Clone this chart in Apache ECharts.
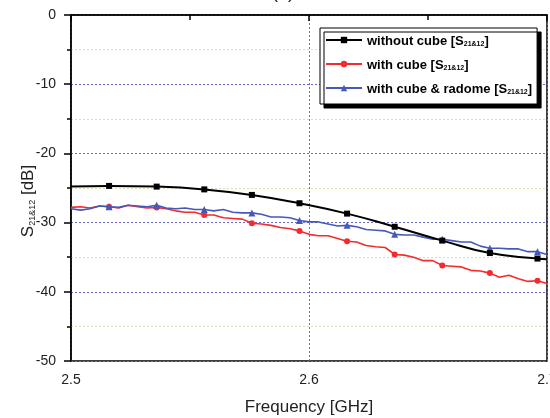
<!DOCTYPE html>
<html>
<head>
<meta charset="utf-8">
<script src="https://cdn.jsdelivr.net/npm/echarts@6/dist/echarts.min.js"></script>
<style>
  html, body { margin: 0; padding: 0; background: #fff; }
  #main { width: 550px; height: 418px; }
</style>
</head>
<body>
<div id="main"></div>
<script>
// S21&12 vs frequency, three measurement cases
var xTicks = [2.5, 2.6, 2.7];
var yTicks = [0, -10, -20, -30, -40, -50];

// black curve, read at its marker positions plus both ends
var freqNoCube = [2.5, 2.516, 2.536, 2.556, 2.576, 2.596, 2.616, 2.636, 2.656, 2.676, 2.696, 2.7];
var noCube = [-24.8, -24.7, -24.8, -25.2, -26.0, -27.2, -28.7, -30.6, -32.6, -34.4, -35.2, -35.3];

// red and blue traces, every 0.004 GHz
var freqStep = [
  2.500, 2.504, 2.508, 2.512, 2.516, 2.520, 2.524, 2.528, 2.532, 2.536,
  2.540, 2.544, 2.548, 2.552, 2.556, 2.560, 2.564, 2.568, 2.572, 2.576,
  2.580, 2.584, 2.588, 2.592, 2.596, 2.600, 2.604, 2.608, 2.612, 2.616,
  2.620, 2.624, 2.628, 2.632, 2.636, 2.640, 2.644, 2.648, 2.652, 2.656,
  2.660, 2.664, 2.668, 2.672, 2.676, 2.680, 2.684, 2.688, 2.692, 2.696, 2.700
];
var withCube = [
  -27.8, -27.7, -27.9, -27.6, -27.7, -27.9, -27.5, -27.7, -27.9, -27.8,
  -28.0, -28.3, -28.5, -28.5, -28.9, -28.9, -29.3, -29.4, -29.5, -30.1,
  -30.2, -30.4, -30.7, -30.9, -31.2, -31.7, -31.9, -31.9, -32.3, -32.7,
  -32.8, -33.3, -33.5, -33.6, -34.6, -34.7, -35.0, -35.5, -35.5, -36.2,
  -36.3, -36.4, -36.9, -37.0, -37.3, -37.9, -37.6, -38.1, -38.5, -38.4, -38.8
];
var withRadome = [
  -28.0, -28.2, -28.0, -27.6, -27.7, -27.8, -27.5, -27.6, -27.7, -27.5,
  -27.9, -28.0, -27.9, -28.1, -28.1, -28.3, -28.1, -28.5, -28.6, -28.6,
  -28.8, -29.2, -29.2, -29.3, -29.7, -29.9, -29.9, -30.2, -30.5, -30.4,
  -30.6, -31.0, -31.1, -31.2, -31.7, -31.8, -31.8, -32.1, -32.4, -32.4,
  -32.6, -32.8, -32.8, -33.4, -33.7, -33.7, -33.8, -33.8, -34.2, -34.2, -34.6
];

var seriesNames = ['without cube', 'with cube', 'with cube & radome'];

function pairs(xs, ys) {
  return xs.map(function (x, i) { return [x, ys[i]]; });
}

var chart = echarts.init(document.getElementById('main'), null, { renderer: 'canvas' });
var font = '"Liberation Sans", Arial, sans-serif';

var option = {
  animation: false,
  textStyle: { fontFamily: font },
  grid: {
    left: 71, right: 3, top: 15, bottom: 57,
    containLabel: false, outerBoundsMode: 'none',
    show: true, borderColor: '#000', borderWidth: 1.5
  },
  graphic: [
    {
      type: 'text', x: 283, y: 2,
      style: { text: '(a)', fontSize: 18, fill: '#222', fontFamily: font, textAlign: 'center', textVerticalAlign: 'bottom' }
    },
    {
      type: 'text', x: 27, y: 201, rotation: Math.PI / 2,
      style: {
        text: '{m|S}{s|21&12}{m| [dB]}',
        fontFamily: font, textAlign: 'center', textVerticalAlign: 'middle',
        rich: {
          m: { fontSize: 17, fill: '#222', fontFamily: font, verticalAlign: 'bottom', lineHeight: 20 },
          s: { fontSize: 9, fill: '#222', fontFamily: font, verticalAlign: 'bottom', lineHeight: 14 }
        }
      }
    }
  ],
  legend: {
    orient: 'vertical',
    left: 320, top: 28,
    padding: [7, 5, 8, 5],
    itemGap: 11,
    itemWidth: 36, itemHeight: 8,
    backgroundColor: '#fff',
    borderColor: '#000', borderWidth: 1,
    shadowColor: '#000', shadowBlur: 0, shadowOffsetX: 4, shadowOffsetY: 4,
    data: seriesNames,
    formatter: function (name) {
      return '{b|' + name + ' [S}{s|21&12}{b|]}';
    },
    textStyle: {
      rich: {
        b: { fontSize: 13, fontWeight: 'bold', color: '#000', fontFamily: font, verticalAlign: 'bottom', lineHeight: 16 },
        s: { fontSize: 7, fontWeight: 'bold', color: '#000', fontFamily: font, verticalAlign: 'bottom', lineHeight: 10 }
      }
    }
  },
  xAxis: {
    type: 'value', min: 2.5, max: 2.7, interval: 0.1,
    axisLine: { lineStyle: { color: '#000', width: 1.5 } },
    axisTick: { length: 6, lineStyle: { color: '#000', width: 1.5 } },
    minorTick: { show: true, splitNumber: 2, length: 5, lineStyle: { color: '#000', width: 1.5 } },
    axisLabel: {
      fontSize: 14, color: '#222', margin: 12,
      formatter: function (v) { return xTicks.indexOf(Math.round(v * 10) / 10) >= 0 ? v.toFixed(1) : ''; }
    },
    splitLine: { show: true, lineStyle: { color: '#6a6ad8', type: [2, 2], width: 1 } },
    name: 'Frequency [GHz]', nameLocation: 'middle', nameGap: 38,
    nameTextStyle: { fontSize: 17, color: '#222' }
  },
  yAxis: {
    type: 'value', min: -50, max: 0, interval: 10,
    axisLine: { lineStyle: { color: '#000', width: 1.5 } },
    axisTick: { length: 7, lineStyle: { color: '#000', width: 1.5 } },
    minorTick: { show: true, splitNumber: 2, length: 4, lineStyle: { color: '#000', width: 1.5 } },
    axisLabel: {
      fontSize: 14, color: '#222', margin: 15,
      formatter: function (v) { return yTicks.indexOf(v) >= 0 ? String(v) : ''; }
    },
    splitLine: { show: true, lineStyle: { color: '#6a6ad8', type: [2, 2], width: 1 } },
    minorSplitLine: { show: true, lineStyle: { color: '#cfe6b0', type: [2, 2], width: 1 } }
  },
  series: [
    {
      name: seriesNames[0], type: 'line', smooth: true,
      data: pairs(freqNoCube, noCube),
      symbol: 'rect', showAllSymbol: true,
      symbolSize: function (v, p) { return (p.dataIndex === 0 || p.dataIndex === freqNoCube.length - 1) ? 0 : 6; },
      lineStyle: { color: '#000', width: 2 },
      itemStyle: { color: '#000', borderWidth: 0 },
      z: 4
    },
    {
      name: seriesNames[1], type: 'line',
      data: pairs(freqStep, withCube),
      symbol: 'circle', showAllSymbol: true,
      symbolSize: function (v, p) { return p.dataIndex % 5 === 4 ? 6 : 0; },
      lineStyle: { color: '#f52a2a', width: 1.6 },
      itemStyle: { color: '#f52a2a', borderWidth: 0 },
      z: 2
    },
    {
      name: seriesNames[2], type: 'line',
      data: pairs(freqStep, withRadome),
      symbol: 'triangle', showAllSymbol: true,
      symbolSize: function (v, p) { return p.dataIndex % 5 === 4 ? 7 : 0; },
      lineStyle: { color: '#4658b8', width: 1.6 },
      itemStyle: { color: '#4658b8', borderWidth: 0 },
      z: 3
    }
  ]
};

chart.setOption(option);
</script>
</body>
</html>
